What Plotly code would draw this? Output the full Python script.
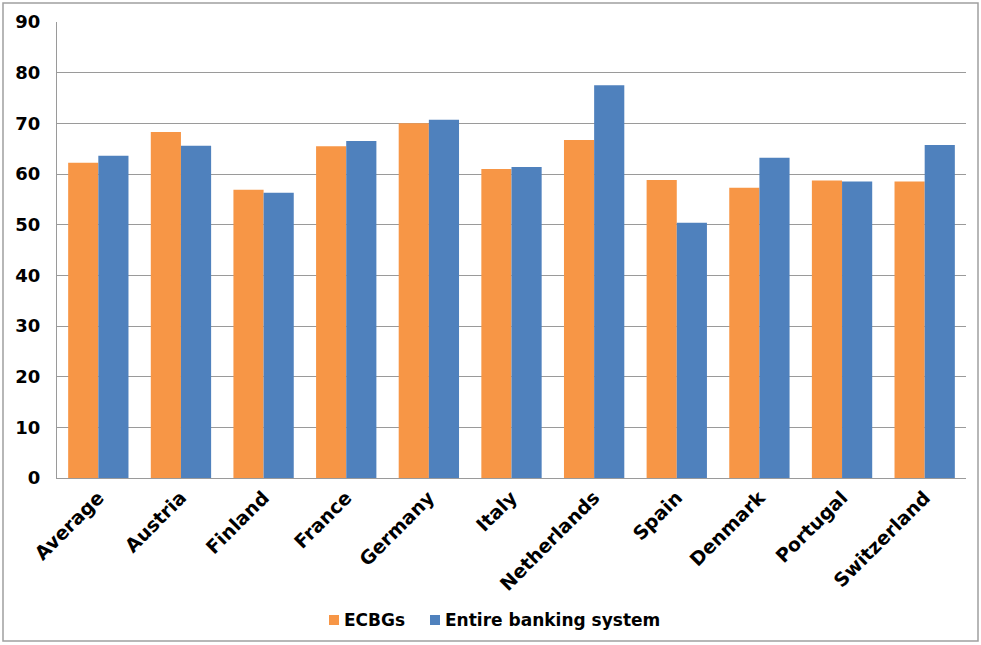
import plotly.graph_objects as go

countries = ["Average", "Austria", "Finland", "France", "Germany", "Italy",
             "Netherlands", "Spain", "Denmark", "Portugal", "Switzerland"]
ecbgs = [62.2, 68.3, 56.9, 65.5, 70.0, 61.0, 66.7, 58.8, 57.3, 58.7, 58.5]
entire_system = [63.6, 65.6, 56.3, 66.5, 70.7, 61.4, 77.5, 50.4, 63.2, 58.5, 65.7]
y_ticks = list(range(0, 91, 10))
series_names = ["ECBGs", "Entire banking system"]

ORANGE = "#F79646"
BLUE = "#4F81BD"
FONT = "DejaVu Sans"

fig = go.Figure()
fig.add_trace(go.Bar(x=countries, y=ecbgs, name=series_names[0],
                     marker=dict(color=ORANGE, line=dict(width=0))))
fig.add_trace(go.Bar(x=countries, y=entire_system, name=series_names[1],
                     marker=dict(color=BLUE, line=dict(width=0))))

W, H = 981, 645
ml, mr, mt, mb = 57, 15, 22, 167
pw, ph = W - ml - mr, H - mt - mb


def px_x(x):
    return (x - ml) / pw


def px_y(y):
    return (mt + ph - y) / ph


shapes = [dict(type="rect", xref="paper", yref="paper",
               x0=px_x(3), x1=px_x(978), y0=px_y(641), y1=px_y(3),
               line=dict(color="#A0A0A0", width=1.5), layer="below")]
annotations = []

# legend drawn by hand: small square swatch followed closely by the label
legend_items = [(329, series_names[0], ORANGE), (430, series_names[1], BLUE)]
for x0, label, color in legend_items:
    shapes.append(dict(type="rect", xref="paper", yref="paper",
                       x0=px_x(x0), x1=px_x(x0 + 10),
                       y0=px_y(625), y1=px_y(615),
                       fillcolor=color, line=dict(width=0)))
    annotations.append(dict(xref="paper", yref="paper", x=px_x(x0 + 13),
                            y=px_y(620), text=label, showarrow=False,
                            xanchor="left", yanchor="middle",
                            font=dict(family=FONT, size=17, color="black",
                                      weight="bold")))

fig.update_layout(
    width=W, height=H,
    margin=dict(l=ml, r=mr, t=mt, b=mb),
    paper_bgcolor="white", plot_bgcolor="white",
    barmode="group", bargap=0.27, bargroupgap=0,
    font=dict(family=FONT, size=16, color="black"),
    showlegend=False,
    xaxis=dict(showline=True, linecolor="#9A9A9A", linewidth=1,
               tickangle=-45, ticks="",
               tickfont=dict(family=FONT, size=19, color="black", weight="bold")),
    yaxis=dict(range=[0, 90], tickvals=y_ticks, showline=True,
               linecolor="#9A9A9A", linewidth=1,
               showgrid=True, gridcolor="#9A9A9A", gridwidth=1,
               zeroline=False, ticks="", ticklabelstandoff=12,
               tickfont=dict(family=FONT, size=18, color="black", weight="bold")),
    shapes=shapes,
    annotations=annotations,
)

fig.write_html("out.html")
